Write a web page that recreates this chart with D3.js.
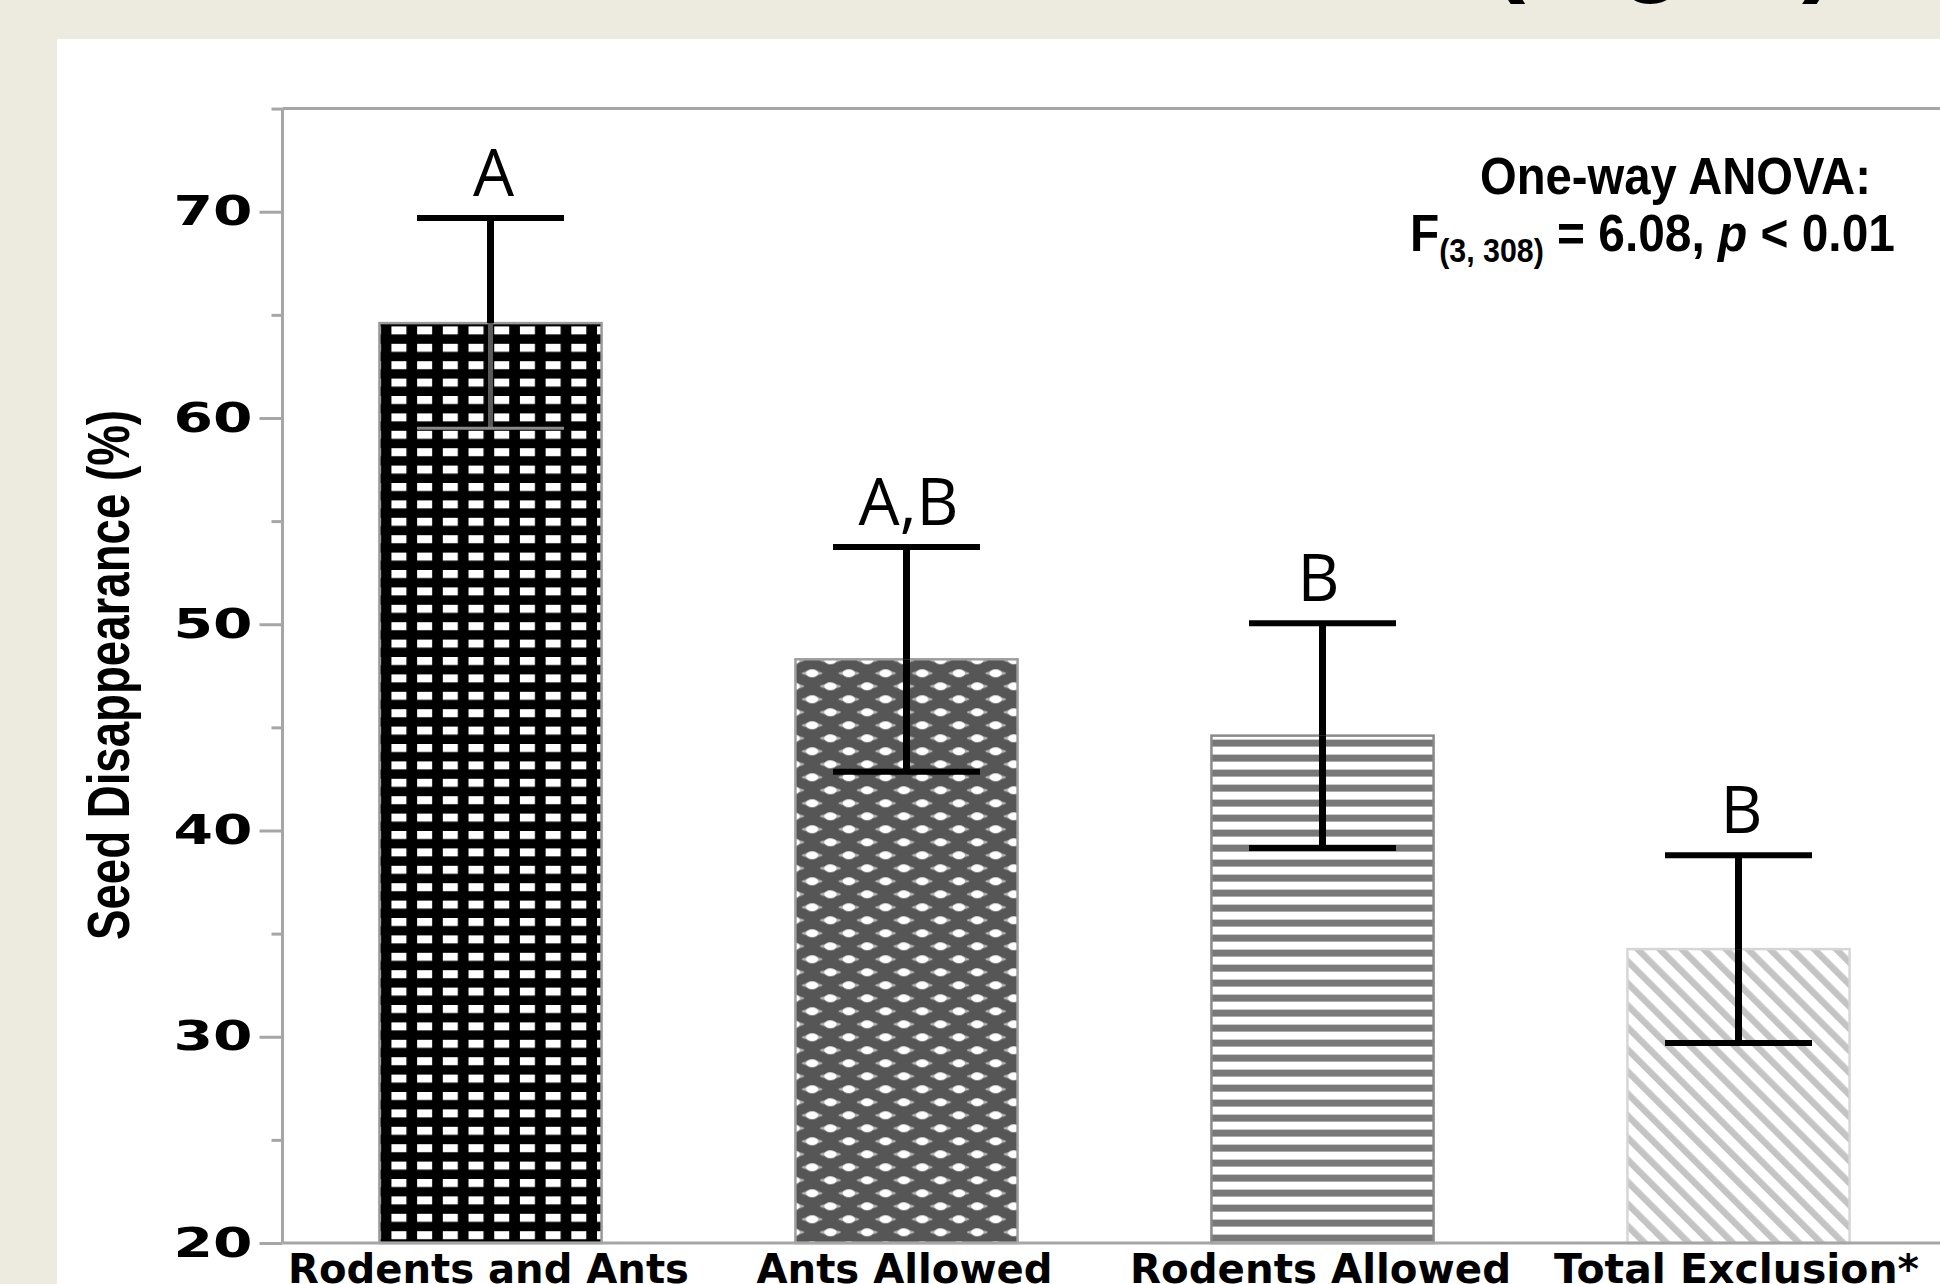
<!DOCTYPE html>
<html>
<head>
<meta charset="utf-8">
<script src="https://cdn.jsdelivr.net/npm/d3@7"></script>
<style>
  html, body { margin: 0; padding: 0; background: #EDEBE0; }
  svg { display: block; }
  text { white-space: pre; }
</style>
</head>
<body>
<svg id="chart" width="1940" height="1284"></svg>
<script>
// ---- data ----
const categories = ["Rodents and Ants", "Ants Allowed", "Rodents Allowed", "Total Exclusion*"];
const means = [64.6, 48.3, 44.6, 34.25];
const stdErrors = [5.1, 5.45, 5.45, 4.55];
const groupLetters = ["A", "A,B", "B", "B"];
const yTicks = [20, 30, 40, 50, 60, 70];
const yMinorTicks = [25, 35, 45, 55, 65, 75];
const yDomain = [20, 75];

// ---- layout / style ----
const W = 1940, H = 1284;
const axisColor = "#a6a6a6";
const wideFont = "'DejaVu Sans', Verdana, sans-serif";
const arialFont = "'Liberation Sans', Arial, sans-serif";
const xLabelFit = [401, 296, 381, 365];
const letterNudge = [3, 2, -4, 3];

const svg = d3.select("#chart");

// slide backdrop and white content panel
svg.append("rect").attr("width", W).attr("height", H).attr("fill", "#EDEBE0");
svg.append("rect").attr("x", 57).attr("y", 39).attr("width", W - 57).attr("height", H - 39).attr("fill", "#ffffff");

// slide heading (runs off the top edge)
svg.append("text")
  .attr("x", 1490).attr("y", -18)
  .attr("font-family", arialFont).attr("font-weight", "bold").attr("font-size", 106)
  .attr("fill", "#000")
  .text("(Fig. 1)");

// ---- scales ----
const axisX = 282.5;
const y = d3.scaleLinear().domain(yDomain).range([1243, 108.6]);
const x = d3.scaleBand().domain(categories).range([axisX, 1946.5])
  .paddingInner(0.466).paddingOuter(0.233);
const bw = x.bandwidth();

// ---- fill patterns ----
const defs = svg.append("defs");

// 1: black grid with white windows
{
  const p = defs.append("pattern").attr("id", "pat0").attr("patternUnits", "userSpaceOnUse")
    .attr("x", x(categories[0]) + 12).attr("y", y(means[0]) + 3.3)
    .attr("width", 25.7).attr("height", 17.4);
  p.append("rect").attr("width", 25.7).attr("height", 17.4).attr("fill", "#000");
  p.append("rect").attr("width", 15).attr("height", 8).attr("fill", "#fff");
}
// 2: dark grey with staggered light dots
{
  const pw = 36.7, ph = 26;
  const p = defs.append("pattern").attr("id", "pat1").attr("patternUnits", "userSpaceOnUse")
    .attr("x", x(categories[1])).attr("y", y(means[1]))
    .attr("width", pw).attr("height", ph);
  p.append("rect").attr("width", pw).attr("height", ph).attr("fill", "#565656");
  const centres = [[16.7, 14], [35.05, 1]];
  for (const [cx, cy] of centres) {
    for (let i = -1; i <= 1; i++) for (let j = -1; j <= 1; j++) {
      p.append("ellipse").attr("cx", cx + i * pw).attr("cy", cy + j * ph)
        .attr("rx", 10.5).attr("ry", 2.2).attr("fill", "#b4b4b4");
      p.append("ellipse").attr("cx", cx + i * pw).attr("cy", cy + j * ph)
        .attr("rx", 6.2).attr("ry", 4).attr("fill", "#ffffff");
    }
  }
}
// 3: horizontal grey stripes
{
  const p = defs.append("pattern").attr("id", "pat2").attr("patternUnits", "userSpaceOnUse")
    .attr("x", x(categories[2])).attr("y", y(means[2]) + 4)
    .attr("width", 10).attr("height", 15);
  p.append("rect").attr("width", 10).attr("height", 15).attr("fill", "#fff");
  p.append("rect").attr("width", 10).attr("height", 7).attr("fill", "#787878");
}
// 4: light diagonal hatching
{
  const s = 15.6;
  const p = defs.append("pattern").attr("id", "pat3").attr("patternUnits", "userSpaceOnUse")
    .attr("width", s).attr("height", s).attr("patternTransform", "rotate(-45)");
  p.append("rect").attr("width", s).attr("height", s).attr("fill", "#fff");
  p.append("rect").attr("width", 6.5).attr("height", s).attr("fill", "#c4c4c4");
}
const barStroke = ["#9a9a9a", "#9e9e9e", "#8a8a8a", "#d6d6d6"];

// ---- bars ----
svg.append("g").selectAll("rect")
  .data(categories)
  .join("rect")
  .attr("x", d => x(d))
  .attr("y", (d, i) => y(means[i]))
  .attr("width", bw)
  .attr("height", (d, i) => y(yDomain[0]) - y(means[i]))
  .attr("fill", (d, i) => `url(#pat${i})`)
  .attr("stroke", (d, i) => barStroke[i])
  .attr("stroke-width", 2.5);

// ---- error bars ----
const capW = 147;
const eb = svg.append("g").selectAll("g").data(categories).join("g")
  .attr("transform", d => `translate(${x(d) + bw / 2},0)`);
// lower half (drawn lighter over the dense black grid)
eb.append("line")
  .attr("y1", (d, i) => y(means[i])).attr("y2", (d, i) => y(means[i] - stdErrors[i]))
  .attr("stroke", (d, i) => i === 0 ? "#5a5a5a" : "#000")
  .attr("stroke-width", (d, i) => i === 0 ? 5 : 7);
eb.append("line")
  .attr("x1", -capW / 2).attr("x2", capW / 2)
  .attr("y1", (d, i) => y(means[i] - stdErrors[i])).attr("y2", (d, i) => y(means[i] - stdErrors[i]))
  .attr("stroke", (d, i) => i === 0 ? "#8a8a8a" : "#000")
  .attr("stroke-width", (d, i) => i === 0 ? 3 : 6);
// upper half
eb.append("line")
  .attr("y1", (d, i) => y(means[i])).attr("y2", (d, i) => y(means[i] + stdErrors[i]))
  .attr("stroke", "#000").attr("stroke-width", 7);
eb.append("line")
  .attr("x1", -capW / 2).attr("x2", capW / 2)
  .attr("y1", (d, i) => y(means[i] + stdErrors[i])).attr("y2", (d, i) => y(means[i] + stdErrors[i]))
  .attr("stroke", "#000").attr("stroke-width", 6);

// significance letters
eb.append("text")
  .attr("x", (d, i) => letterNudge[i])
  .attr("y", (d, i) => y(means[i] + stdErrors[i]) - 22)
  .attr("text-anchor", "middle")
  .attr("font-family", "'Open Sans', 'Noto Sans', sans-serif")
  .attr("font-size", 65)
  .attr("fill", "#000")
  .text((d, i) => groupLetters[i]);

// ---- axes ----
const yAxis = svg.append("g").attr("transform", `translate(${axisX},0)`)
  .call(d3.axisLeft(y).tickValues(yTicks).tickSize(23).tickPadding(7).tickFormat(d3.format("d")));
yAxis.select(".domain").remove();
yAxis.selectAll(".tick line").attr("stroke", axisColor).attr("stroke-width", 3);
yAxis.selectAll(".tick text")
  .attr("font-family", wideFont).attr("font-weight", "bold").attr("font-size", 41)
  .attr("fill", "#000")
  .attr("textLength", 79).attr("lengthAdjust", "spacingAndGlyphs");

const yMinor = svg.append("g").attr("transform", `translate(${axisX},0)`)
  .call(d3.axisLeft(y).tickValues(yMinorTicks).tickSize(11).tickFormat(""));
yMinor.select(".domain").remove();
yMinor.selectAll(".tick line").attr("stroke", axisColor).attr("stroke-width", 3);

// axis line, baseline and top frame
svg.append("line").attr("x1", axisX).attr("x2", axisX)
  .attr("y1", y(yDomain[1])).attr("y2", y(yDomain[0]))
  .attr("stroke", axisColor).attr("stroke-width", 3);
svg.append("line").attr("x1", axisX).attr("x2", W)
  .attr("y1", y(yDomain[0])).attr("y2", y(yDomain[0]))
  .attr("stroke", axisColor).attr("stroke-width", 3);
svg.append("line").attr("x1", axisX).attr("x2", W)
  .attr("y1", y(yDomain[1])).attr("y2", y(yDomain[1]))
  .attr("stroke", axisColor).attr("stroke-width", 3);

// category labels
svg.append("g").selectAll("text").data(categories).join("text")
  .attr("x", d => x(d) + bw / 2 - 2)
  .attr("y", 1283)
  .attr("text-anchor", "middle")
  .attr("font-family", wideFont).attr("font-weight", "bold").attr("font-size", 40)
  .attr("fill", "#000")
  .attr("textLength", (d, i) => xLabelFit[i]).attr("lengthAdjust", "spacingAndGlyphs")
  .text(d => d);

// y axis title
svg.append("text")
  .attr("transform", "translate(129,675) rotate(-90)")
  .attr("text-anchor", "middle")
  .attr("font-family", "'Liberation Sans Narrow', 'Liberation Sans', Arial, sans-serif")
  .attr("font-weight", "bold").attr("font-size", 60)
  .attr("fill", "#000")
  .attr("textLength", 530).attr("lengthAdjust", "spacingAndGlyphs")
  .text("Seed Disappearance (%)");

// ANOVA annotation, each line squeezed horizontally to its span
function fitSpan(sel, x0, x1) {
  const w = sel.node().getBBox().width;
  const k = (x1 - x0) / w;
  sel.attr("x", 0).attr("transform", `translate(${x0},0) scale(${k},1)`);
}

const head = svg.append("text")
  .attr("y", 194)
  .attr("font-family", arialFont).attr("font-weight", "bold").attr("font-size", 52)
  .attr("fill", "#000")
  .text("One-way ANOVA:");
fitSpan(head, 1480, 1871);

const stat = svg.append("text")
  .attr("y", 251)
  .attr("font-family", arialFont).attr("font-weight", "bold").attr("font-size", 52)
  .attr("fill", "#000");
stat.append("tspan").text("F");
stat.append("tspan").attr("font-size", 33).attr("dy", 11).text("(3, 308)");
stat.append("tspan").attr("dy", -11).text(" = 6.08, ");
stat.append("tspan").attr("font-style", "italic").text("p");
stat.append("tspan").text(" < 0.01");
fitSpan(stat, 1410, 1895);
</script>
</body>
</html>
